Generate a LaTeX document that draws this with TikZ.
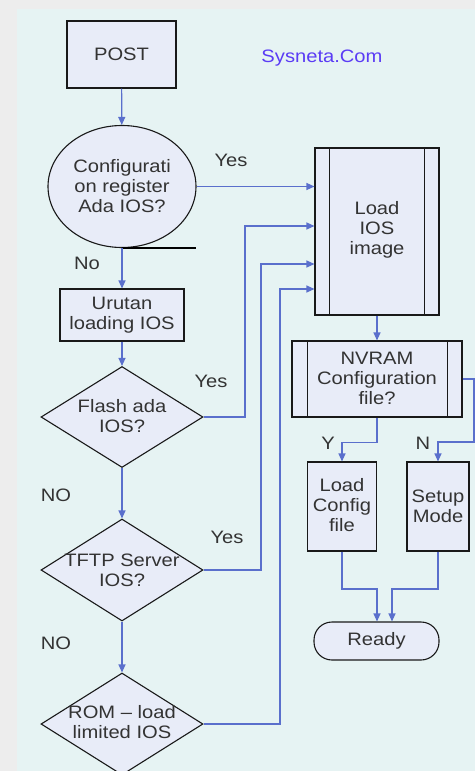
\documentclass[tikz,border=0pt]{standalone}
\usepackage{fontspec}
\setmainfont{Liberation Sans}[FakeStretch=1.12]
\usetikzlibrary{shapes.geometric,arrows.meta}
\definecolor{panel}{HTML}{E6F3F3}
\definecolor{outer}{HTML}{EDEDED}
\definecolor{nodefill}{HTML}{E8ECF8}
\definecolor{conn}{HTML}{5A6FCC}
\definecolor{txtc}{HTML}{333333}
\definecolor{brand}{HTML}{5B3CF5}
\begin{document}
\begin{tikzpicture}[x=1pt,y=-1pt,
 font=\fontsize{18}{20}\selectfont,
 every node/.style={text=txtc},
 box/.style={draw=black!90,line width=1.1pt,fill=nodefill,inner sep=0pt,align=center},
 dia/.style={box,diamond},
 txt/.style={align=center,inner sep=0pt},
 lbl/.style={inner sep=0pt},
 arr/.style={draw=conn,line width=1.2pt,-{Triangle[width=7pt,length=8pt,fill=conn]}},
 ln/.style={draw=conn,line width=1.2pt},
 inner/.style={draw=black!90,line width=1.1pt}]
\useasboundingbox (0,0) rectangle (475,771);
\fill[outer] (0,0) rectangle (475,771);
\fill[panel] (17,9) rectangle (475,771);

% nodes
\node[box,minimum width=109pt,minimum height=67pt] (post) at (121.5,54.5) {POST};
\node[text=brand] (brandt) at (322,58) {Sysneta.Com};
\node[box,ellipse,minimum width=148pt,minimum height=122pt] (conf) at (122,186.5) {Configurati\\on register\\Ada IOS?};
\node[box,minimum width=124pt,minimum height=167pt] (load) at (377,231.5) {};
\node[txt] (loadt) at (377,230) {Load\\IOS\\image};
\draw[inner] ([xshift=15pt]load.north west) -- ([xshift=15pt]load.south west);
\draw[inner] ([xshift=-15pt]load.north east) -- ([xshift=-15pt]load.south east);
\node[box,minimum width=124pt,minimum height=52pt] (urut) at (122,315) {Urutan\\loading IOS};
\node[dia,minimum width=162pt,minimum height=101pt] (flash) at (122,417) {};
\node[txt] (flasht) at (122,416) {Flash ada\\IOS?};
\node[dia,minimum width=162pt,minimum height=102pt] (tftp) at (122,570) {};
\node[txt] (tftpt) at (122,570) {TFTP Server\\IOS?};
\node[dia,minimum width=162pt,minimum height=102pt] (rom) at (122,724) {};
\node[txt] (romt) at (122,722) {ROM -- load\\limited IOS};
\node[box,minimum width=170pt,minimum height=76pt] (nvram) at (377,379) {};
\node[txt] (nvramt) at (377,378) {NVRAM\\Configuration\\file?};
\draw[inner] ([xshift=16pt]nvram.north west) -- ([xshift=16pt]nvram.south west);
\draw[inner] ([xshift=-15pt]nvram.north east) -- ([xshift=-15pt]nvram.south east);
\node[box,minimum width=69pt,minimum height=89pt] (lcfg) at (342,506.5) {};
\node[txt] (lcfgt) at (342,505) {Load\\Config\\file};
\node[box,minimum width=62pt,minimum height=89pt] (setup) at (438,506.5) {};
\node[txt] (setupt) at (438,506) {Setup\\Mode};
\node[box,rounded corners=18pt,minimum width=125pt,minimum height=38pt] (ready) at (376.5,641) {Ready};

% labels
\node[lbl] (l1) at (231,160) {Yes};
\node[lbl] (l2) at (87,263) {No};
\node[lbl] (l3) at (211,381) {Yes};
\node[lbl] (l4) at (56,495) {NO};
\node[lbl] (l5) at (227,537) {Yes};
\node[lbl] (l6) at (56,643) {NO};
\node[lbl] (l7) at (328,443) {Y};
\node[lbl] (l8) at (423,443) {N};

% connectors
\draw[arr] (post) -- (conf);
\draw[arr] (conf.east) -- (load.west |- conf.east);
\draw[black,line width=1.2pt] (conf.south) -- ++(74,0);
\draw[arr] (conf) -- (urut);
\draw[arr] (urut) -- (flash);
\draw[arr] (flash) -- (tftp);
\draw[arr] (tftp) -- (rom);
\draw[arr] (flash.east) -| (245,226) -- (load.west |- 0,226);
\draw[arr] (tftp.east) -| (261,264) -- (load.west |- 0,264);
\draw[arr] (rom.east) -| (280,289) -- (load.west |- 0,289);
\draw[arr] (load) -- (nvram);
\draw[arr] (nvram.south) -- ++(0,25) -| (lcfg.north);
\draw[arr] (nvram.east) -| (474,442) -| (setup.north);
\draw[arr] (lcfg.south) |- (377,589) -- (ready.north -| 377,0);
\draw[arr] (setup.south) |- (392,589) -- (ready.north -| 392,0);
\end{tikzpicture}
\end{document}
